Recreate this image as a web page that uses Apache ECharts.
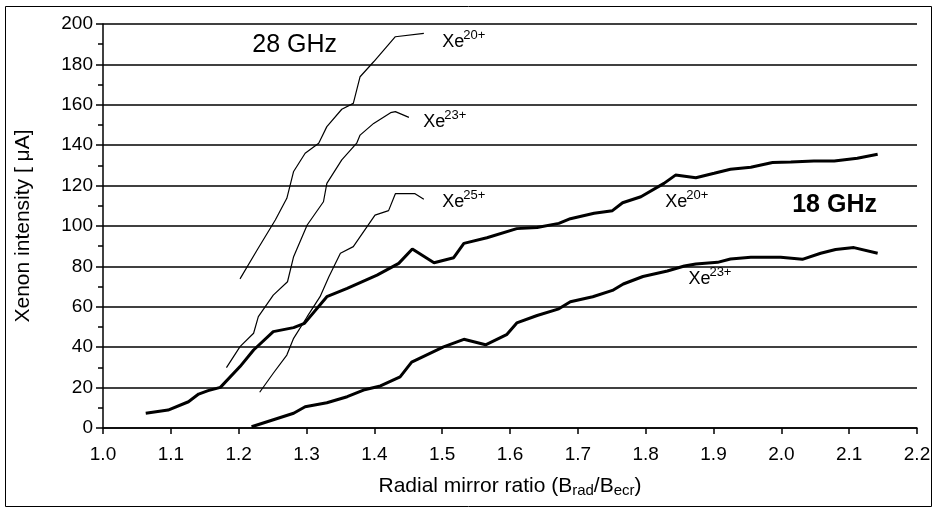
<!DOCTYPE html>
<html>
<head>
<meta charset="utf-8">
<script src="https://cdn.jsdelivr.net/npm/echarts@6/dist/echarts.min.js"></script>
<style>
  html, body { margin: 0; padding: 0; background: #fff; }
  #container { width: 935px; height: 510px; }
</style>
</head>
<body>
<div id="container"></div>
<script>
// 18 GHz (thick lines)
var ghz18Xe20 = [
  [1.063, 7.3], [1.096, 8.9], [1.126, 13.0], [1.141, 16.8], [1.155, 18.5], [1.173, 20.1],
  [1.202, 30.4], [1.222, 38.6], [1.251, 47.7], [1.281, 49.7], [1.297, 51.8], [1.330, 65.0],
  [1.360, 69.1], [1.404, 75.7], [1.436, 81.5], [1.456, 88.6], [1.488, 81.8], [1.517, 84.3],
  [1.532, 91.4], [1.566, 94.2], [1.610, 98.7], [1.640, 99.3], [1.672, 101.3], [1.689, 103.6],
  [1.724, 106.3], [1.751, 107.6], [1.766, 111.5], [1.793, 114.5], [1.827, 121.1], [1.844, 125.2],
  [1.874, 123.9], [1.901, 126.1], [1.925, 128.1], [1.955, 129.1], [1.987, 131.4], [2.014, 131.7],
  [2.048, 132.2], [2.078, 132.2], [2.112, 133.5], [2.142, 135.5]
];
var ghz18Xe23 = [
  [1.219, 0.6], [1.281, 7.3], [1.298, 10.5], [1.330, 12.5], [1.360, 15.5], [1.384, 18.8],
  [1.409, 20.8], [1.438, 25.3], [1.455, 32.6], [1.502, 40.2], [1.532, 43.9], [1.564, 41.2],
  [1.595, 46.2], [1.610, 52.0], [1.640, 55.7], [1.672, 59.0], [1.689, 62.5], [1.722, 65.0],
  [1.751, 68.1], [1.767, 71.3], [1.796, 75.0], [1.832, 77.7], [1.857, 80.2], [1.874, 81.2],
  [1.906, 82.0], [1.925, 83.7], [1.955, 84.5], [1.999, 84.5], [2.031, 83.5], [2.058, 86.5],
  [2.080, 88.4], [2.107, 89.3], [2.142, 86.5]
];
// 28 GHz (thin lines)
var ghz28Xe20 = [
  [1.202, 73.8], [1.227, 88.0], [1.254, 103.0], [1.271, 113.7], [1.281, 127.0], [1.298, 136.0],
  [1.318, 141.0], [1.330, 149.2], [1.352, 157.8], [1.369, 160.7], [1.379, 173.9], [1.399, 181.3],
  [1.431, 193.7], [1.473, 195.4]
];
var ghz28Xe23 = [
  [1.182, 29.9], [1.202, 40.3], [1.222, 46.9], [1.229, 55.1], [1.251, 65.8], [1.272, 72.4],
  [1.281, 84.8], [1.301, 100.5], [1.325, 112.0], [1.330, 121.1], [1.352, 132.7], [1.374, 141.0],
  [1.379, 145.0], [1.399, 150.8], [1.424, 156.1], [1.431, 156.6], [1.451, 153.8]
];
var ghz28Xe25 = [
  [1.231, 17.7], [1.251, 27.1], [1.271, 36.1], [1.281, 44.4], [1.301, 55.1], [1.320, 65.0],
  [1.333, 74.9], [1.350, 86.5], [1.369, 89.8], [1.401, 105.4], [1.421, 107.6], [1.431, 116.0],
  [1.460, 116.0], [1.473, 113.2]
];

// annotation anchors (data coords: left edge, baseline)
var ionLabels = [
  { at: [1.500, 188], charge: '20+' },
  { at: [1.472, 148.5], charge: '23+' },
  { at: [1.500, 109], charge: '25+' },
  { at: [1.829, 109], charge: '20+' },
  { at: [1.863, 70.8], charge: '23+' }
];
var freqLabels = [
  { at: [1.220, 186], text: '28 GHz', bold: false },
  { at: [2.016, 106.4], text: '18 GHz', bold: true }
];

var FONT = 'Arial, "Liberation Sans", sans-serif';

var myChart = echarts.init(document.getElementById('container'));

function lineSeries(data, width) {
  return {
    type: 'line',
    data: data,
    showSymbol: false,
    symbol: 'none',
    smooth: false,
    lineStyle: { color: '#000', width: width },
    z: 3
  };
}

var option = {
  animation: false,
  backgroundColor: '#fff',
  grid: { left: 103, right: 18, top: 24, bottom: 82 },
  xAxis: {
    type: 'value',
    min: 1.0,
    max: 2.2,
    interval: 0.1,
    name: 'Radial mirror ratio (B{sub|rad}/B{sub|ecr})',
    nameLocation: 'middle',
    nameGap: 46,
    nameTextStyle: {
      color: '#000', fontSize: 21, fontFamily: FONT,
      rich: {
        sub: { fontSize: 15, fontFamily: FONT, color: '#000', verticalAlign: 'bottom', padding: [9, 0, 0, 0] }
      }
    },
    axisLine: { lineStyle: { color: '#000', width: 1.5 } },
    axisTick: { show: true, length: 6, lineStyle: { color: '#000', width: 1.5 } },
    axisLabel: {
      color: '#000', fontSize: 19, fontFamily: FONT, margin: 17,
      formatter: function (v) { return v.toFixed(1); }
    },
    splitLine: { show: false }
  },
  yAxis: {
    type: 'value',
    min: 0,
    max: 200,
    interval: 20,
    name: 'Xenon intensity [ \u03bcA]',
    nameLocation: 'middle',
    nameGap: 69,
    nameTextStyle: { color: '#000', fontSize: 21, fontFamily: FONT },
    axisLine: { show: true, lineStyle: { color: '#000', width: 1.5 } },
    axisTick: { show: true, length: 7, lineStyle: { color: '#000', width: 1.5 } },
    minorTick: { show: true, splitNumber: 2, length: 5, lineStyle: { color: '#000', width: 1.5 } },
    axisLabel: { color: '#000', fontSize: 19, fontFamily: FONT, margin: 10 },
    splitLine: { show: true, lineStyle: { color: '#000', width: 1.5 } }
  },
  series: [
    lineSeries(ghz18Xe20, 3),
    lineSeries(ghz18Xe23, 3),
    lineSeries(ghz28Xe20, 1.2),
    lineSeries(ghz28Xe23, 1.2),
    lineSeries(ghz28Xe25, 1.2)
  ]
};

myChart.setOption(option, true);

// labels placed through the grid's coordinate conversion
var graphics = [
  {
    type: 'rect',
    shape: { x: 5.5, y: 6.5, width: 926, height: 500 },
    style: { fill: 'none', stroke: '#000', lineWidth: 1 },
    silent: true,
    z: 0
  }
];
ionLabels.forEach(function (l) {
  var p = myChart.convertToPixel({ gridIndex: 0 }, l.at);
  graphics.push({
    type: 'text', x: p[0], y: p[1] + 3,
    style: { text: 'Xe', fill: '#000', font: '18px ' + FONT, textVerticalAlign: 'bottom' },
    z: 10
  });
  graphics.push({
    type: 'text', x: p[0] + 21, y: p[1] - 6,
    style: { text: l.charge, fill: '#000', font: '13px ' + FONT, textVerticalAlign: 'bottom' },
    z: 10
  });
});
freqLabels.forEach(function (l) {
  var p = myChart.convertToPixel({ gridIndex: 0 }, l.at);
  graphics.push({
    type: 'text', x: p[0], y: p[1] + 5,
    style: {
      text: l.text, fill: '#000',
      font: (l.bold ? 'bold ' : '') + '25px ' + FONT,
      textVerticalAlign: 'bottom'
    },
    z: 10
  });
});
myChart.setOption({ graphic: graphics });
</script>
</body>
</html>
